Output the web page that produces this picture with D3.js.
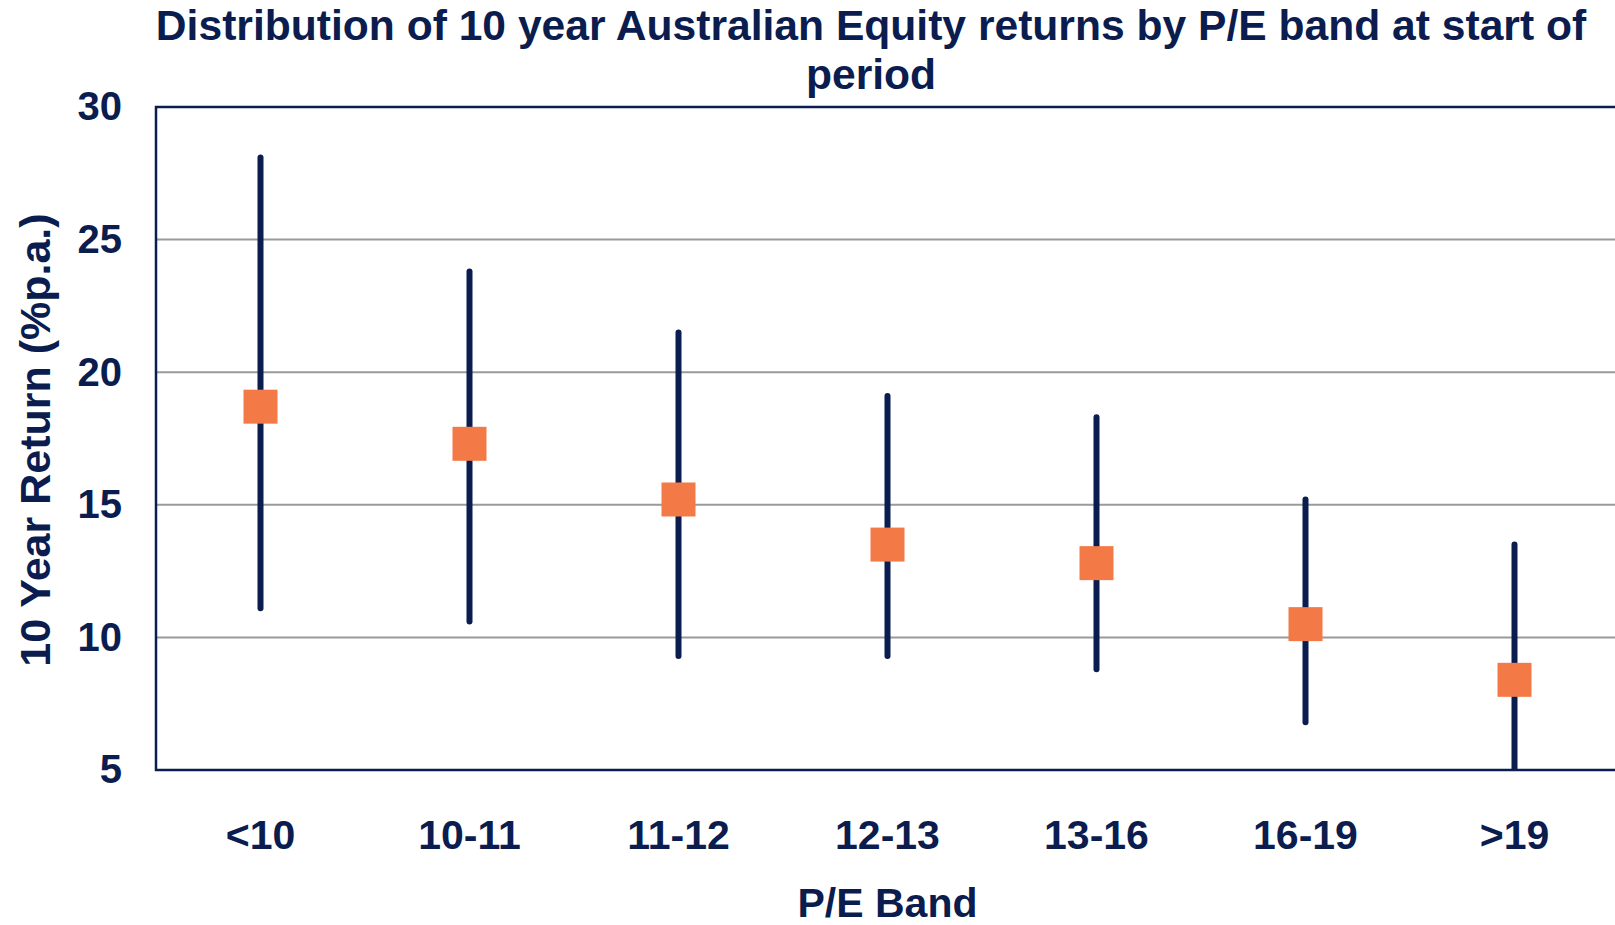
<!DOCTYPE html>
<html>
<head>
<meta charset="utf-8">
<script src="https://cdn.jsdelivr.net/npm/d3@7"></script>
<style>
  body { margin: 0; background: #fff; }
  svg { display: block; font-family: "Liberation Sans", Arial, sans-serif; font-weight: bold; }
</style>
</head>
<body>
<svg id="chart" width="1615" height="925"></svg>
<script>
// P/E bands and the return distribution (10 yr, % p.a.)
var bands = ['<10', '10-11', '11-12', '12-13', '13-16', '16-19', '>19'];
var highs = [28.1, 23.8, 21.5, 19.1, 18.3, 15.2, 13.5];
var lows = [11.1, 10.6, 9.3, 9.3, 8.8, 6.8, 4.5];
var medians = [18.7, 17.3, 15.2, 13.5, 12.8, 10.5, 8.4];
var yTicks = [5, 10, 15, 20, 25, 30];

var navy = '#0b1c4f';
var orange = '#f37a47';

var svg = d3.select('#chart');
var margin = { left: 156, right: 1619, top: 107, bottom: 770 };

var data = bands.map((b, i) => ({ band: b, hi: highs[i], lo: lows[i], med: medians[i] }));

var x = d3.scaleBand().domain(bands).range([margin.left, margin.right]);
var y = d3.scaleLinear().domain([5, 30]).range([margin.bottom, margin.top]);

svg.append('clipPath').attr('id', 'plot-clip')
    .append('rect')
    .attr('x', margin.left).attr('y', margin.top)
    .attr('width', margin.right - margin.left)
    .attr('height', margin.bottom - margin.top);

// gridlines
svg.append('g')
    .selectAll('line')
    .data(yTicks.filter(t => t > 5 && t < 30))
    .enter().append('line')
    .attr('x1', margin.left).attr('x2', margin.right)
    .attr('y1', d => y(d)).attr('y2', d => y(d))
    .attr('stroke', '#9a9a9a')
    .attr('stroke-width', 2);

// whiskers (range of returns)
svg.append('g')
    .attr('clip-path', 'url(#plot-clip)')
    .selectAll('line')
    .data(data)
    .enter().append('line')
    .attr('x1', d => x(d.band) + x.bandwidth() / 2)
    .attr('x2', d => x(d.band) + x.bandwidth() / 2)
    .attr('y1', d => y(d.hi))
    .attr('y2', d => y(d.lo))
    .attr('stroke', navy)
    .attr('stroke-width', 6)
    .attr('stroke-linecap', 'round');

// median markers
var sq = 34;
svg.append('g')
    .selectAll('rect')
    .data(data)
    .enter().append('rect')
    .attr('x', d => x(d.band) + x.bandwidth() / 2 - sq / 2)
    .attr('y', d => y(d.med) - sq / 2)
    .attr('width', sq)
    .attr('height', sq)
    .attr('fill', orange);

// frame: top, left, bottom
svg.append('path')
    .attr('d', `M${margin.right},${margin.top}H${margin.left}V${margin.bottom}H${margin.right}`)
    .attr('fill', 'none')
    .attr('stroke', navy)
    .attr('stroke-width', 2.5);

// y axis labels
var yAxis = svg.append('g')
    .attr('transform', `translate(${margin.left},0)`)
    .call(d3.axisLeft(y).tickValues(yTicks).tickSize(0).tickPadding(34));
yAxis.select('.domain').remove();
yAxis.selectAll('text')
    .style('font-size', '40px')
    .style('font-family', '"Liberation Sans", Arial, sans-serif')
    .style('font-weight', 'bold')
    .attr('fill', navy);

// x axis labels
var xAxis = svg.append('g')
    .attr('transform', `translate(0,${margin.bottom})`)
    .call(d3.axisBottom(x).tickSize(0).tickPadding(50));
xAxis.select('.domain').remove();
xAxis.selectAll('text')
    .style('font-size', '41px')
    .style('font-family', '"Liberation Sans", Arial, sans-serif')
    .style('font-weight', 'bold')
    .attr('fill', navy);

// axis titles
svg.append('text')
    .attr('x', (margin.left + margin.right) / 2)
    .attr('y', 917)
    .attr('text-anchor', 'middle')
    .attr('fill', navy)
    .style('font-size', '41px')
    .text('P/E Band');

svg.append('text')
    .attr('transform', 'translate(50,440) rotate(-90)')
    .attr('text-anchor', 'middle')
    .attr('fill', navy)
    .style('font-size', '43px')
    .text('10 Year Return (%p.a.)');

// title
var title = svg.append('text')
    .attr('text-anchor', 'middle')
    .attr('fill', navy)
    .style('font-size', '42.6px');
title.append('tspan').attr('x', 871).attr('y', 40)
    .text('Distribution of 10 year Australian Equity returns by P/E band at start of');
title.append('tspan').attr('x', 871).attr('y', 89)
    .text('period');
</script>
</body>
</html>
